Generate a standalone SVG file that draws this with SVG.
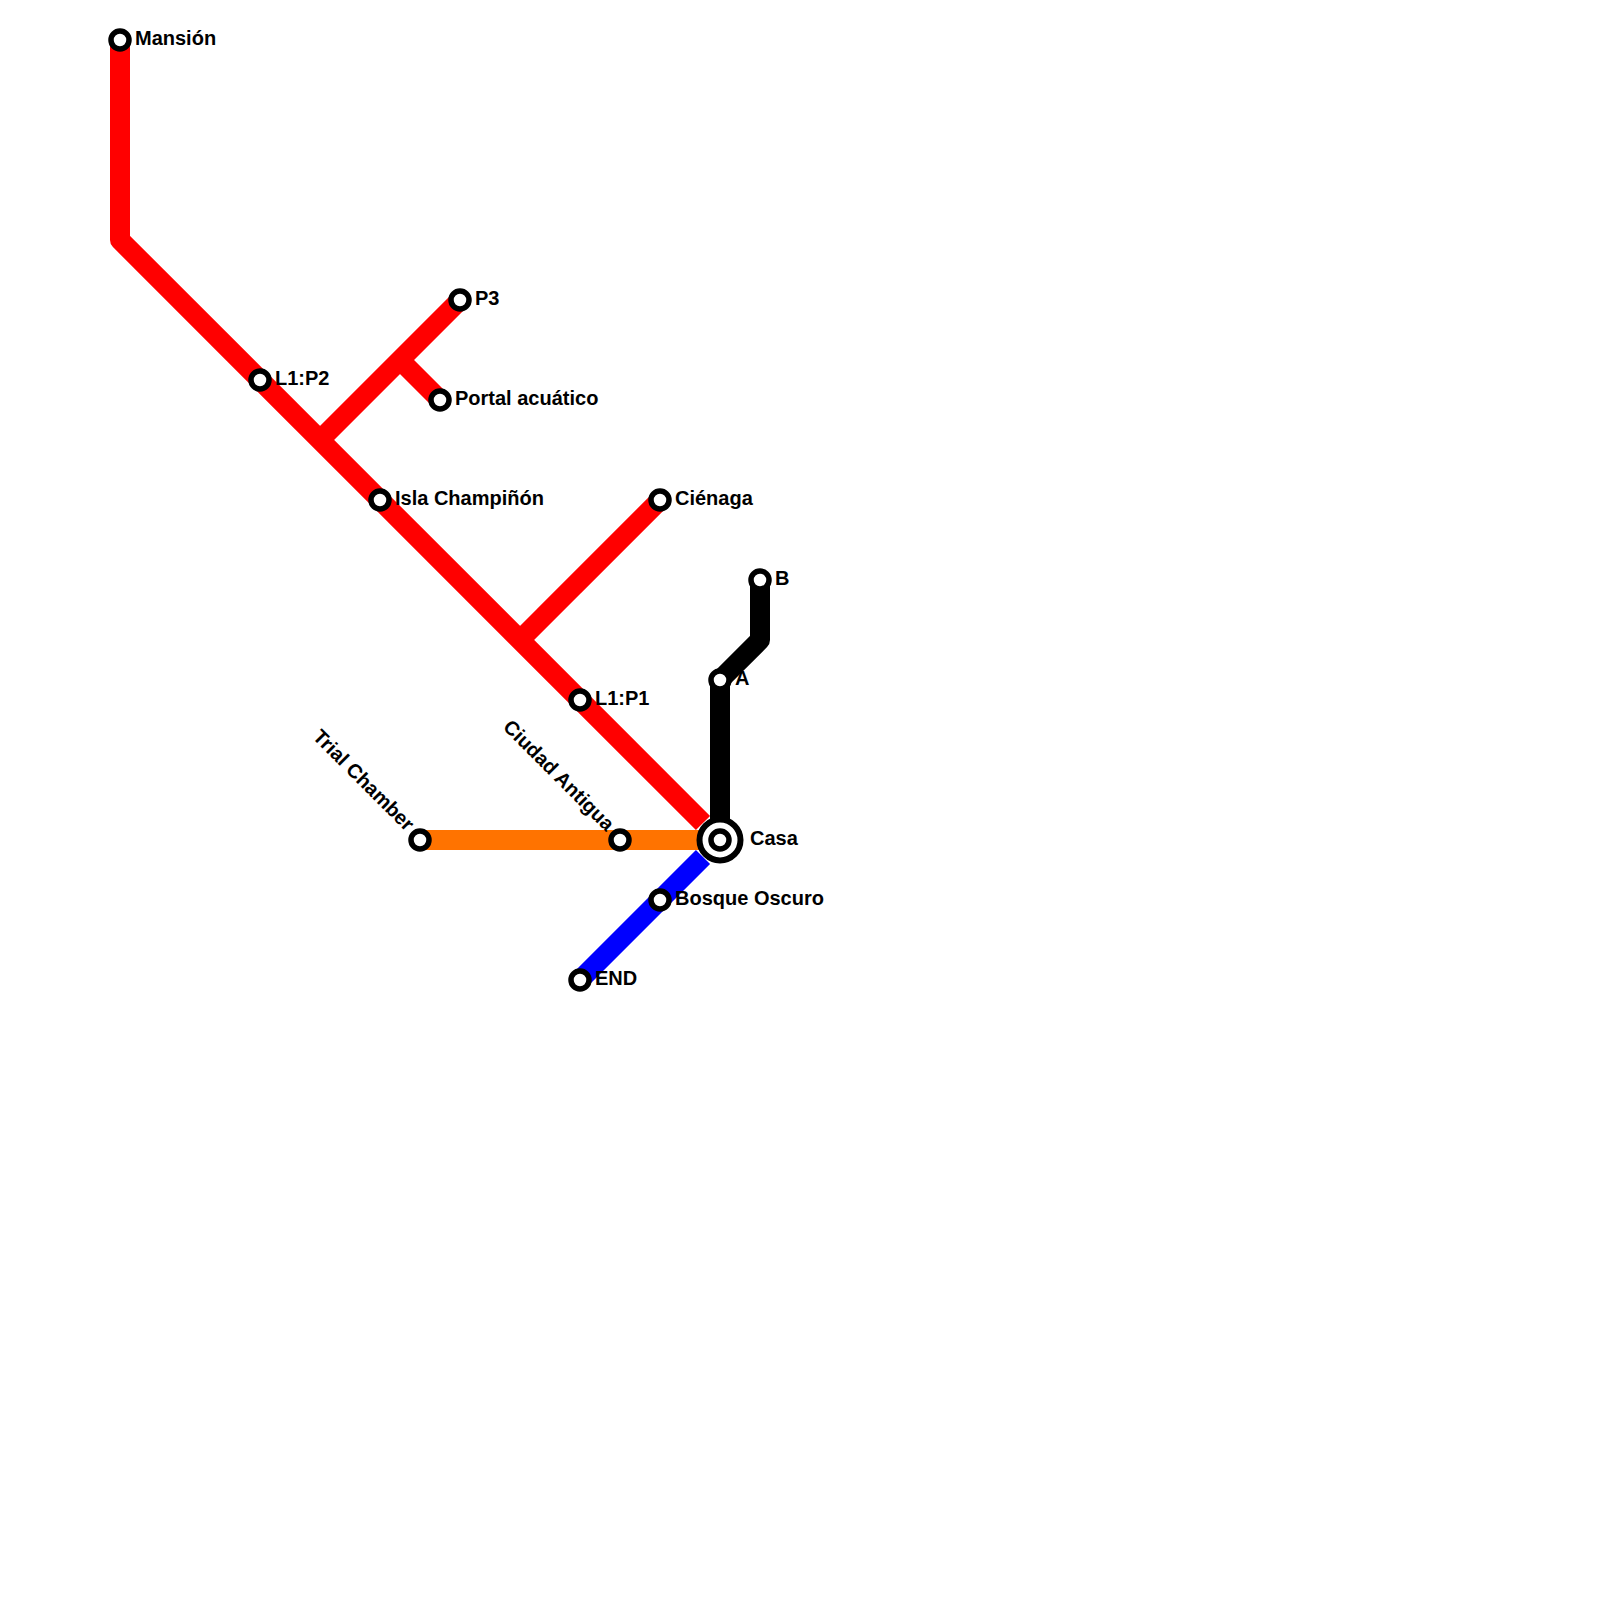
<svg xmlns="http://www.w3.org/2000/svg" width="1600" height="1600" viewBox="0 0 1600 1600">
<style>
.l{fill:none;stroke-width:20;stroke-linejoin:round;stroke-linecap:butt}
.s{fill:#fff;stroke:#000;stroke-width:5.5}
text{font-family:"Liberation Sans",Arial,sans-serif;font-weight:bold;font-size:20px;fill:#000}
</style>
<rect width="1600" height="1600" fill="#fff"/>
<g id="connectors">
<path class="l" stroke="#ff0000" d="M120 40V240L703 823"/>
<path class="l" stroke="#ff0000" d="M320 440L460 300"/>
<path class="l" stroke="#ff0000" d="M400 360L440 400"/>
<path class="l" stroke="#ff0000" d="M520 640L660 500"/>
<path class="l" stroke="#ff7300" d="M420 840H702"/>
<path class="l" stroke="#0000ff" d="M703 857L580 980"/>
<path class="l" stroke="#000000" d="M720 840V680L760 640V580"/>
</g>
<g id="mansion"><circle class="s" cx="120" cy="40" r="9"/><text x="135" y="45">Mansión</text></g>
<g id="l1p2"><circle class="s" cx="260" cy="380" r="9"/><text x="275" y="385">L1:P2</text></g>
<g id="isla"><circle class="s" cx="380" cy="500" r="9"/><text x="395" y="505">Isla Champiñón</text></g>
<g id="p3"><circle class="s" cx="460" cy="300" r="9"/><text x="475" y="305">P3</text></g>
<g id="portal"><circle class="s" cx="440" cy="400" r="9"/><text x="455" y="405">Portal acuático</text></g>
<g id="cienaga"><circle class="s" cx="660" cy="500" r="9"/><text x="675" y="505">Ciénaga</text></g>
<g id="b"><circle class="s" cx="760" cy="580" r="9"/><text x="775" y="585">B</text></g>
<g id="a"><circle class="s" cx="720" cy="680" r="9"/><text x="735" y="685">A</text></g>
<g id="l1p1"><circle class="s" cx="580" cy="700" r="9"/><text x="595" y="705">L1:P1</text></g>
<g id="trial"><circle class="s" cx="420" cy="840" r="9"/><text transform="translate(406 832) rotate(45)" text-anchor="end">Trial Chamber</text></g>
<g id="ciudad"><circle class="s" cx="620" cy="840" r="9"/><text transform="translate(606 832) rotate(45)" text-anchor="end">Ciudad Antigua</text></g>
<g id="casa"><circle cx="720" cy="840" r="20.5" fill="#fff" stroke="#000" stroke-width="6"/><circle class="s" cx="720" cy="840" r="9"/><text x="750" y="845">Casa</text></g>
<g id="bosque"><circle class="s" cx="660" cy="900" r="9"/><text x="675" y="905">Bosque Oscuro</text></g>
<g id="end"><circle class="s" cx="580" cy="980" r="9"/><text x="595" y="985">END</text></g>
</svg>
